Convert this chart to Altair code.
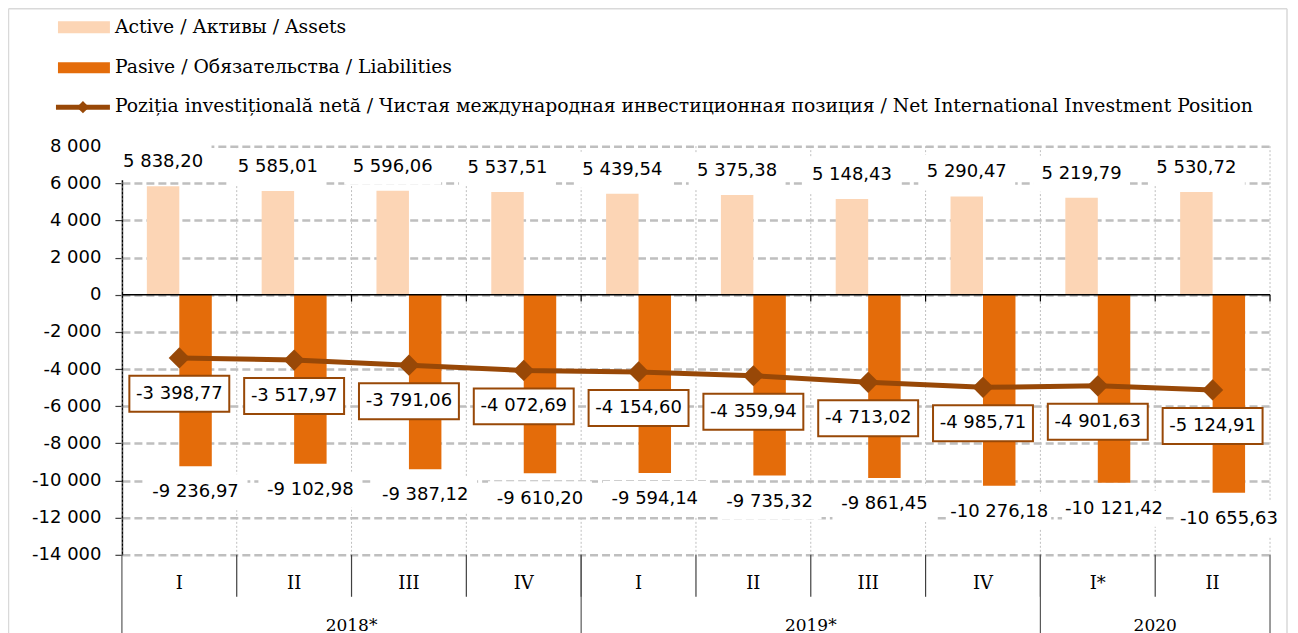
import altair as alt
import pandas as pd

# ---------------- data ----------------
quarters = ["I", "II", "III", "IV", "I", "II", "III", "IV", "I*", "II"]
years = ["2018*", "2018*", "2018*", "2018*", "2019*", "2019*", "2019*", "2019*", "2020", "2020"]
assets = [5838.20, 5585.01, 5596.06, 5537.51, 5439.54, 5375.38, 5148.43, 5290.47, 5219.79, 5530.72]
liabilities = [-9236.97, -9102.98, -9387.12, -9610.20, -9594.14, -9735.32, -9861.45, -10276.18, -10121.42, -10655.63]
net = [-3398.77, -3517.97, -3791.06, -4072.69, -4154.60, -4359.94, -4713.02, -4985.71, -4901.63, -5124.91]
series_names = [
    "Active / Активы / Assets",
    "Pasive / Обязательства / Liabilities",
    "Poziția investițională netă / Чистая международная инвестиционная позиция / Net International Investment Position",
]
y_ticks = list(range(-14000, 8001, 2000))

# ---------------- style ----------------
W, H = 1149, 409
C_ASSET = "#FCD5B5"
C_LIAB = "#E46C0A"
C_NET = "#984807"
GRID = "#BFBFBF"
SANS = "DejaVu Sans"
SERIF = "DejaVu Serif"


def fmt(v):
    s = f"{abs(v):,.2f}".replace(",", " ").replace(".", ",")
    return ("-" if v < 0 else "") + s


keys = [f"{y}|{q}|{i}" for i, (y, q) in enumerate(zip(years, quarters))]
base = pd.DataFrame({
    "key": keys, "quarter": quarters, "year": years,
    "assets": assets, "liab": liabilities, "net": net,
    "assets_lbl": [fmt(v) for v in assets],
    "liab_lbl": [fmt(v) for v in liabilities],
    "net_lbl": [fmt(v) for v in net],
})
bars = pd.concat([
    pd.DataFrame({"key": keys, "series": "A", "value": assets}),
    pd.DataFrame({"key": keys, "series": "L", "value": liabilities}),
])

# year groups
groups = []
for y in dict.fromkeys(years):
    idxs = [i for i, yy in enumerate(years) if yy == y]
    groups.append((y, idxs[0], idxs[-1]))
year_df = pd.DataFrame({
    "year": [g[0] for g in groups],
    "key": [keys[(g[1] + g[2] + 1) // 2] for g in groups],
})
year_start_df = pd.DataFrame({"key": [keys[g[1]] for g in groups]})
last_df = base.iloc[[-1]]
inner_df = base.iloc[1:]

xs = alt.Scale(type="band", domain=keys, paddingInner=0, paddingOuter=0)
ys = alt.Scale(domain=[-14000, 8000], nice=False, zero=False)

YAX = alt.Axis(values=y_ticks, labelOverlap=False, title=None,
               labelExpr="(datum.value < 0 ? '-' : '') + replace(format(abs(datum.value), ','), ',', ' ')",
               grid=True, gridColor=GRID, gridDash=[8, 4], gridWidth=2.5,
               domainColor="black", domainWidth=1.5,
               tickColor="#404040", tickSize=7, tickWidth=1.2,
               labelFont=SANS, labelFontSize=18, labelColor="black", labelPadding=14)


def X(bp=0.5):
    return alt.X("key:N", scale=xs, axis=None, bandPosition=bp, title=None)


def Yf(field):
    return alt.Y(f"{field}:Q", scale=ys, title=None, axis=YAX)


def Yd(v):
    return alt.YDatum(v, scale=ys, axis=YAX, type="quantitative")


def rect_shape(w, h):
    r = h / w
    return f"M-1,-{r:.4f}L1,-{r:.4f}L1,{r:.4f}L-1,{r:.4f}Z"


BW = 32.5
OFF = BW / 2

# vertical dotted grid
vgrid = alt.Chart(base).mark_rule(color=GRID, strokeDash=[2, 2], strokeWidth=1).encode(
    x=X(0), y=Yd(8000), y2=alt.datum(-14000))
vgrid_r = alt.Chart(last_df).mark_rule(color=GRID, strokeDash=[2, 2], strokeWidth=1).encode(
    x=X(1), y=Yd(8000), y2=alt.datum(-14000))

bar_layer = alt.Chart(bars).mark_bar().encode(
    x=alt.X("key:N", scale=xs, axis=None, title=None),
    xOffset=alt.XOffset("series:N", scale=alt.Scale(domain=["A", "L"], paddingOuter=0.768, paddingInner=0)),
    y=alt.Y("value:Q", scale=ys, stack=None, title=None, axis=YAX),
    color=alt.Color("series:N", scale=alt.Scale(domain=["A", "L"], range=[C_ASSET, C_LIAB]), legend=None),
)

zero_line = alt.Chart(pd.DataFrame({"v": [0]})).mark_rule(color="black", strokeWidth=1.5).encode(
    y=Yf("v"), x=alt.value(0), x2=alt.value(W))
zero_ticks = alt.Chart(inner_df).mark_rule(color="black", strokeWidth=1.2).encode(
    x=X(0), y=Yd(0), y2=alt.datum(-370))
zero_tick_r = alt.Chart(last_df).mark_rule(color="black", strokeWidth=1.2).encode(
    x=X(1), y=Yd(0), y2=alt.datum(-370))

asset_box = alt.Chart(base).mark_point(
    shape=rect_shape(97, 36), size=97 ** 2, filled=True, fill="white", opacity=1, strokeWidth=0,
    xOffset=-OFF, yOffset=-24).encode(x=X(), y=Yf("assets"))
asset_txt = alt.Chart(base).mark_text(
    font=SANS, fontSize=18, color="black", dx=-OFF, dy=-24, baseline="middle").encode(
    x=X(), y=Yf("assets"), text="assets_lbl:N")

liab_box = alt.Chart(base).mark_point(
    shape=rect_shape(104, 36), size=104 ** 2, filled=True, fill="white", opacity=1, strokeWidth=0,
    xOffset=OFF, yOffset=26).encode(x=X(), y=Yf("liab"))
liab_txt = alt.Chart(base).mark_text(
    font=SANS, fontSize=18, color="black", dx=OFF, dy=26, baseline="middle").encode(
    x=X(), y=Yf("liab"), text="liab_lbl:N")

net_line = alt.Chart(base).mark_line(color=C_NET, strokeWidth=5).encode(x=X(), y=Yf("net"))
net_pts = alt.Chart(base).mark_point(shape="diamond", filled=True, size=450, color=C_NET, opacity=1).encode(
    x=X(), y=Yf("net"))
net_box = alt.Chart(base).mark_point(
    shape=rect_shape(100, 36), size=100 ** 2, filled=False, fill="white", fillOpacity=1,
    stroke=C_NET, strokeWidth=2, opacity=1, yOffset=36).encode(x=X(), y=Yf("net"))
net_txt = alt.Chart(base).mark_text(
    font=SANS, fontSize=18, color="black", dy=36, baseline="middle").encode(
    x=X(), y=Yf("net"), text="net_lbl:N")

# hierarchical category axis
q_sep = alt.Chart(inner_df).mark_rule(color="#404040", strokeWidth=1.2).encode(
    x=X(0), y=alt.value(H), y2=alt.value(H + 42))
y_sep = alt.Chart(year_start_df).mark_rule(color="#595959", strokeWidth=1.2).encode(
    x=X(0), y=alt.value(H), y2=alt.value(H + 95))
y_sep_r = alt.Chart(last_df).mark_rule(color="#595959", strokeWidth=1.2).encode(
    x=X(1), y=alt.value(H), y2=alt.value(H + 95))
q_lbl = alt.Chart(base).mark_text(font=SERIF, fontSize=18, color="black", baseline="middle").encode(
    x=X(), y=alt.value(H + 29), text="quarter:N")
y_lbl = alt.Chart(year_df).mark_text(font=SERIF, fontSize=17, color="black", baseline="alphabetic").encode(
    x=X(0), y=alt.value(H + 76), text="year:N")

# legend
one = pd.DataFrame({"a": [0]})
leg_a = alt.Chart(one).mark_rect(color=C_ASSET).encode(
    x=alt.value(-64), x2=alt.value(-12), y=alt.value(-125), y2=alt.value(-113))
leg_l = alt.Chart(one).mark_rect(color=C_LIAB).encode(
    x=alt.value(-64), x2=alt.value(-12), y=alt.value(-84), y2=alt.value(-73))
leg_n = alt.Chart(one).mark_rule(color=C_NET, strokeWidth=5).encode(
    x=alt.value(-66), x2=alt.value(-12), y=alt.value(-39))
leg_d = alt.Chart(one).mark_point(shape="diamond", filled=True, size=150, color=C_NET, opacity=1).encode(
    x=alt.value(-39), y=alt.value(-39))
leg_txt = []
for i, yy in enumerate([-119, -79, -40]):
    leg_txt.append(
        alt.Chart(pd.DataFrame({"t": [series_names[i]]})).mark_text(
            font=SERIF, fontSize=18.8, color="black", align="left", baseline="middle").encode(
            x=alt.value(-7), y=alt.value(yy), text="t:N"))

# outer frame
FR = "#D9D9D9"
frame = [
    alt.Chart(one).mark_rule(color=FR, strokeWidth=1.5).encode(
        x=alt.value(-113.5), y=alt.value(-137.5), y2=alt.value(H + 95)),
    alt.Chart(one).mark_rule(color=FR, strokeWidth=1.5).encode(
        x=alt.value(-113.5), x2=alt.value(1166), y=alt.value(-137.5)),
    alt.Chart(one).mark_rule(color=FR, strokeWidth=1.5).encode(
        x=alt.value(1166), y=alt.value(-137.5), y2=alt.value(H + 95)),
]

chart = alt.layer(
    vgrid, vgrid_r, bar_layer, zero_line, zero_ticks, zero_tick_r,
    asset_box, asset_txt, liab_box, liab_txt,
    net_line, net_pts, net_box, net_txt,
    q_sep, y_sep, y_sep_r, q_lbl, y_lbl,
    leg_a, leg_l, leg_n, leg_d, *leg_txt, *frame,
).properties(
    width=W, height=H,
    autosize=alt.AutoSizeParams(type="none"),
    padding={"left": 114, "top": 138, "right": 20, "bottom": 85},
).configure_view(stroke=None)

chart.save("out.html", embed_options={"renderer": "svg", "actions": False})
